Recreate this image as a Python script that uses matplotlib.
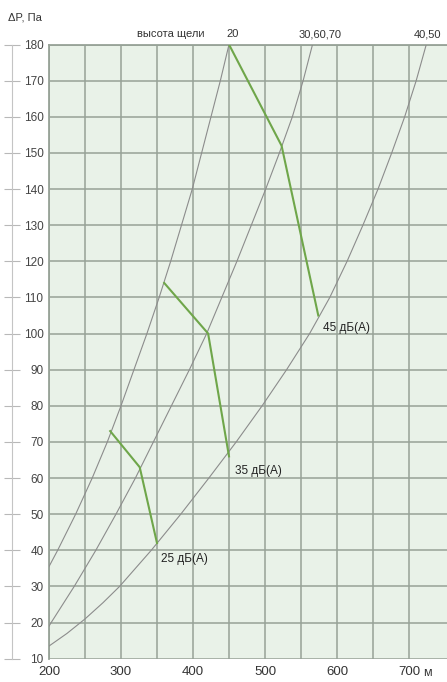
import matplotlib
matplotlib.use("Agg")
import matplotlib.pyplot as plt

plt.rcParams['font.family'] = ['Liberation Sans', 'DejaVu Sans']

# ---- data ----
x_ticks = [200, 250, 300, 350, 400, 450, 500, 550, 600, 650, 700]
x_ticklabels = ['200', '', '300', '', '400', '', '500', '', '600', '', '700']
y_ticks = list(range(10, 181, 10))

# system curves (slot height): flow Q vs pressure dP
curve20_q = [200, 212, 237, 260, 281, 300, 318, 336, 353, 369, 384, 399, 412, 425, 438, 450]
curve20_p = [35.5, 40, 50, 60, 70, 80, 90, 100, 110, 120, 130, 140, 150, 160, 170, 180]

curve30_q = [200, 203, 235, 265, 293, 320, 345, 370, 395, 419, 440, 461, 481, 501, 520, 538, 553, 566]
curve30_p = [19, 20, 30, 40, 50, 60, 70, 80, 90, 100, 110, 120, 130, 140, 150, 160, 170, 180]

curve40_q = [200, 225, 250, 275, 298, 342, 383, 422, 460, 496, 530, 562, 590, 614, 636, 657, 676, 694, 710, 724]
curve40_p = [13.5, 17, 21, 25.5, 30, 40, 50, 60, 70, 80, 90, 100, 110, 120, 130, 140, 150, 160, 170, 180]

# noise level lines
n45_q = [450, 523, 574]
n45_p = [180, 152, 105]
n35_q = [360, 421, 450]
n35_p = [114, 100, 66]
n25_q = [285, 326, 350]
n25_p = [73, 63, 42]

noise_labels = ['45 дБ(А)', '35 дБ(А)', '25 дБ(А)']
noise_label_q = [580, 458, 356]
noise_label_p = [101.4, 62, 37.7]

top_labels = ['высота щели', '20', '30,60,70', '40,50']
top_label_q = [369, 455, 576, 726]

# ---- figure ----
W, H = 447, 682
fig = plt.figure(figsize=(W / 100, H / 100), dpi=100)
fig.patch.set_facecolor('white')

left_px, right_px = 49, 447
bot_px, top_px = 658.7, 44.5
ax = fig.add_axes([left_px / W, 1 - bot_px / H, (right_px - left_px) / W, (bot_px - top_px) / H])
ax.set_facecolor('#e9f2e8')
ax.set_xlim(200, 200 + (right_px - left_px) / 0.72)
ax.set_ylim(10, 180)

grid_c = '#97a297'
ax.set_xticks(x_ticks)
ax.set_xticklabels(x_ticklabels, fontsize=9.5, color='#333333')
ax.set_yticks(y_ticks)
ax.set_yticklabels([str(v) for v in y_ticks], fontsize=8.5, color='#444444')
ax.tick_params(axis='x', length=0, pad=5)
ax.tick_params(axis='y', length=0, pad=4)
ax.grid(True, color=grid_c, linewidth=1.1, zorder=0)
ax.set_axisbelow(True)
for s in ['top', 'left']:
    ax.spines[s].set_color(grid_c)
    ax.spines[s].set_linewidth(1.3)
for s in ['right', 'bottom']:
    ax.spines[s].set_visible(False)

curve_c = '#8c8c8c'
for q, p in [(curve20_q, curve20_p), (curve30_q, curve30_p), (curve40_q, curve40_p)]:
    ax.plot(q, p, color=curve_c, linewidth=0.8, zorder=3, clip_on=True)

green = '#6fa64a'
for q, p in [(n45_q, n45_p), (n35_q, n35_p), (n25_q, n25_p)]:
    ax.plot(q, p, color=green, linewidth=1.5, zorder=4)

for lab, q, p in zip(noise_labels, noise_label_q, noise_label_p):
    ax.text(q, p, lab, fontsize=8.5, color='#222222', ha='left', va='center', zorder=5)

for lab, q in zip(top_labels, top_label_q):
    ax.text(q, 181.5, lab, fontsize=8, color='#333333', ha='center', va='bottom', clip_on=False)

# separate y axis line with crossing ticks
ax2 = fig.add_axes([12 / W, 1 - bot_px / H, 0.0001, (bot_px - top_px) / H])
ax2.set_ylim(10, 180)
ax2.set_yticks(y_ticks)
ax2.set_xticks([])
ax2.patch.set_visible(False)
for s in ['top', 'right', 'bottom']:
    ax2.spines[s].set_visible(False)
ax2.spines['left'].set_color('#c4c4c4')
ax2.spines['left'].set_linewidth(0.8)
ax2.tick_params(axis='y', direction='inout', length=12, width=0.8, color='#b8b8b8', labelleft=False)

fig.text(8 / W, 1 - 17 / H, 'ΔP, Па', fontsize=8, color='#333333', ha='left', va='center')
fig.text(423 / W, 1 - 673 / H, 'м', fontsize=9, color='#333333', ha='left', va='center')

fig.savefig('out.png', dpi=100)
